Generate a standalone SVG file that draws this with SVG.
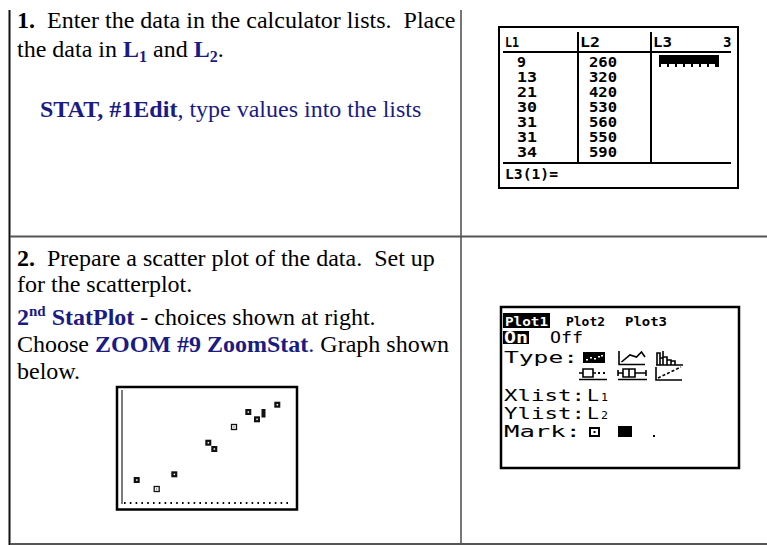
<svg xmlns="http://www.w3.org/2000/svg" width="767" height="545" viewBox="0 0 767 545">
<style>
.t{font-family:"Liberation Serif","Times New Roman",serif;font-size:24px;fill:#000;white-space:pre}
.b{font-weight:bold}
.n{fill:#1b1b84}
.m{font-family:"DejaVu Sans Mono",monospace;font-weight:bold;fill:#000}
.r{font-family:"DejaVu Sans Mono",monospace;font-weight:normal;fill:#000}
.w{fill:#fff}
.frame{fill:#fff;stroke:#000}
</style>
<rect width="767" height="545" fill="#fff"/>
<g id="table-lines">
<line x1="9.5" y1="10" x2="9.5" y2="545" stroke="#111" stroke-width="2"/>
<line x1="461" y1="10" x2="461" y2="545" stroke="#555" stroke-width="1.6"/>
<line x1="10" y1="236.5" x2="767" y2="236.5" stroke="#555" stroke-width="2"/>
<line x1="10" y1="544" x2="767" y2="544" stroke="#555" stroke-width="2"/>
</g>
<g id="cell-1-text">
<text class="t" x="17" y="28"><tspan class="b">1.</tspan>  Enter the data in the calculator lists.  Place</text>
<text class="t" x="17" y="57">the data in <tspan class="b n">L</tspan><tspan class="b n" font-size="16" dy="5">1</tspan><tspan dy="-5"> and </tspan><tspan class="b n">L</tspan><tspan class="b n" font-size="16" dy="5">2</tspan><tspan dy="-5">.</tspan></text>
<text class="t n" x="40" y="117"><tspan class="b">STAT, #1Edit</tspan>, type values into the lists</text>
</g>
<g id="screen-list">
<rect class="frame" x="499" y="27" width="239" height="161" stroke-width="2"/>
<line x1="503" y1="52" x2="731" y2="52" stroke="#000" stroke-width="2"/>
<line x1="503" y1="163" x2="731" y2="163" stroke="#000" stroke-width="2"/>
<line x1="578" y1="32" x2="578" y2="163" stroke="#000" stroke-width="2"/>
<line x1="651" y1="32" x2="651" y2="163" stroke="#000" stroke-width="2"/>
<g class="m" font-size="14">
<text x="505" y="47" textLength="14" lengthAdjust="spacingAndGlyphs">L1</text>
<text x="580" y="47" textLength="20" lengthAdjust="spacingAndGlyphs">L2</text>
<text x="653" y="47" textLength="19" lengthAdjust="spacingAndGlyphs">L3</text>
<text x="723" y="47">3</text>
<text x="517" y="67" textLength="9" lengthAdjust="spacingAndGlyphs">9</text>
<text x="517" y="82" textLength="20" lengthAdjust="spacingAndGlyphs">13</text>
<text x="517" y="97" textLength="20" lengthAdjust="spacingAndGlyphs">21</text>
<text x="517" y="112" textLength="20" lengthAdjust="spacingAndGlyphs">30</text>
<text x="517" y="127" textLength="20" lengthAdjust="spacingAndGlyphs">31</text>
<text x="517" y="142" textLength="20" lengthAdjust="spacingAndGlyphs">31</text>
<text x="517" y="157" textLength="20" lengthAdjust="spacingAndGlyphs">34</text>
<text x="589" y="67" textLength="28" lengthAdjust="spacingAndGlyphs">260</text>
<text x="589" y="82" textLength="28" lengthAdjust="spacingAndGlyphs">320</text>
<text x="589" y="97" textLength="28" lengthAdjust="spacingAndGlyphs">420</text>
<text x="589" y="112" textLength="28" lengthAdjust="spacingAndGlyphs">530</text>
<text x="589" y="127" textLength="28" lengthAdjust="spacingAndGlyphs">560</text>
<text x="589" y="142" textLength="28" lengthAdjust="spacingAndGlyphs">550</text>
<text x="589" y="157" textLength="28" lengthAdjust="spacingAndGlyphs">590</text>
<text x="505" y="179" textLength="53" lengthAdjust="spacingAndGlyphs">L3(1)=</text>
</g>
<rect x="659" y="55" width="60" height="9" fill="#000"/>
<g fill="#000">
<rect x="659" y="63" width="2" height="4"/><rect x="667" y="63" width="2" height="4"/><rect x="675" y="63" width="2" height="4"/><rect x="683" y="63" width="2" height="4"/><rect x="691" y="63" width="2" height="4"/><rect x="699" y="63" width="2" height="4"/><rect x="707" y="63" width="2" height="4"/><rect x="715" y="63" width="4" height="4"/>
</g>
</g>
<g id="cell-2-text">
<text class="t" x="17" y="266"><tspan class="b">2.</tspan>  Prepare a scatter plot of the data.  Set up</text>
<text class="t" x="17" y="292">for the scatterplot.</text>
<text class="t" x="17" y="325"><tspan class="b n">2</tspan><tspan class="b n" font-size="15" dy="-9">nd</tspan><tspan class="b n" dy="9"> StatPlot</tspan> - choices shown at right.</text>
<text class="t" x="17" y="352">Choose <tspan class="b n">ZOOM #9 ZoomStat</tspan><tspan class="n">.</tspan> Graph shown</text>
<text class="t" x="17" y="379">below.</text>
</g>
<g id="graph">
<rect x="117" y="387" width="180" height="122.5" fill="#fff" stroke="#000" stroke-width="2.5"/>
<line x1="122" y1="390" x2="122" y2="504" stroke="#444" stroke-width="1.4"/>
<line x1="124" y1="503" x2="292" y2="503" stroke="#000" stroke-width="2" stroke-dasharray="1.6 4.2"/>
<g fill="#111">
<rect x="133.7" y="477" width="6" height="6"/>
<rect x="171.3" y="471.3" width="6" height="6"/>
<rect x="205.3" y="439.7" width="6" height="6"/>
<rect x="211.3" y="446" width="6" height="6"/>
<rect x="245.3" y="409" width="6" height="6"/>
<rect x="254" y="416.3" width="6" height="6"/>
<rect x="261.5" y="409" width="4" height="8.5"/>
<rect x="274.3" y="401.7" width="6" height="6"/>
</g>
<g fill="#fff">
<rect x="136" y="479.3" width="1.5" height="1.5"/>
<rect x="173.6" y="473.6" width="1.5" height="1.5"/>
<rect x="207.6" y="442" width="1.5" height="1.5"/>
<rect x="213.6" y="448.3" width="1.5" height="1.5"/>
<rect x="247.6" y="411.3" width="1.5" height="1.5"/>
<rect x="256.3" y="418.6" width="1.5" height="1.5"/>
<rect x="276.6" y="404" width="1.5" height="1.5"/>
</g>
<g fill="#fff" stroke="#111" stroke-width="1.3">
<rect x="154.2" y="486.5" width="5" height="5"/>
<rect x="231.5" y="424.5" width="5" height="5"/>
</g>
<rect x="156.2" y="488.5" width="1" height="1" fill="#111"/>
<rect x="233.5" y="426.5" width="1" height="1" fill="#111"/>
</g>
<g id="screen-statplot">
<rect class="frame" x="501" y="307" width="238" height="161" stroke-width="2.5"/>
<rect x="503" y="313" width="47" height="15" fill="#000"/>
<g class="m" font-size="13">
<text class="w" x="505" y="326" textLength="43" lengthAdjust="spacingAndGlyphs">Plot1</text>
<text x="566" y="326" textLength="39" lengthAdjust="spacingAndGlyphs">Plot2</text>
<text x="625" y="326" textLength="42" lengthAdjust="spacingAndGlyphs">Plot3</text>
</g>
<rect x="503" y="331" width="26" height="13" fill="#000"/>
<text class="m w" x="504" y="343" font-size="16" textLength="24" lengthAdjust="spacingAndGlyphs">On</text>
<g class="r" font-size="16">
<text x="550" y="343" textLength="33" lengthAdjust="spacingAndGlyphs">Off</text>
<text x="504" y="363" textLength="74" lengthAdjust="spacingAndGlyphs">Type:</text>
<text x="504" y="437" textLength="77" lengthAdjust="spacingAndGlyphs">Mark:</text>
</g>
<g class="r" font-size="15">
<text x="504" y="400.5" textLength="81" lengthAdjust="spacingAndGlyphs">Xlist:</text>
<text x="587" y="400.5" textLength="12" lengthAdjust="spacingAndGlyphs">L</text>
<text x="504" y="418.5" textLength="81" lengthAdjust="spacingAndGlyphs">Ylist:</text>
<text x="587" y="418.5" textLength="12" lengthAdjust="spacingAndGlyphs">L</text>
</g>
<g class="r" font-size="10">
<text x="601" y="400.5" textLength="7" lengthAdjust="spacingAndGlyphs">1</text>
<text x="601" y="418.5" textLength="7" lengthAdjust="spacingAndGlyphs">2</text>
</g>
<rect x="583" y="352" width="22" height="11" fill="#000"/>
<g fill="#fff">
<rect x="586" y="359" width="2" height="1.5"/><rect x="590" y="357" width="2" height="1.5"/><rect x="594" y="358" width="2" height="1.5"/><rect x="598" y="356" width="2" height="1.5"/><rect x="601" y="355" width="2" height="1.5"/>
</g>
<g fill="none" stroke="#000" stroke-width="1.6">
<path d="M619,351 V364.5 H645"/>
<path d="M621.5,362 L630,355 L636.5,357 L641.5,352 L645,357"/>
<path d="M656,365 H683 M657,365 V353 H660 V365 M660,358 H663 V365 M663,351 V365 M663,357 H667 V365 M667,360 H671 V365 M671,361 H675 V365"/>
<path d="M579,379.5 H607 M579,373 H583 M583,369 H593 V377 H583 Z M593,373 H596"/>
<path d="M618,379.5 H647 M618,370 V376 M618,373 H623 M623,369 H635 V377 H623 Z M629,369 V377 M635,373 H646 M646,370 V376"/>
<path d="M656,367 V380 H682"/>
<path d="M658,378 L681,367" stroke-dasharray="3 2"/>
</g>
<g fill="#000">
<rect x="598" y="372" width="2" height="2"/><rect x="603" y="372" width="2" height="2"/>
<rect x="589" y="427" width="11" height="10"/>
<rect x="618" y="426" width="14" height="11"/>
<rect x="653" y="435" width="2" height="2"/>
</g>
<rect x="591" y="429" width="7" height="6" fill="#fff"/>
<rect x="593.5" y="431" width="2" height="2" fill="#000"/>
</g>
</svg>
